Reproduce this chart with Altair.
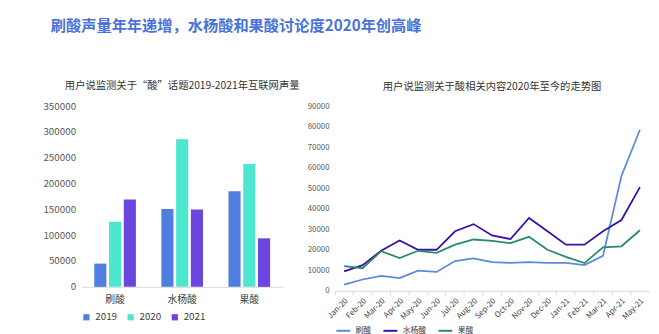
import altair as alt
import pandas as pd

# ---- data ----
bar_categories = ["刷酸", "水杨酸", "果酸"]
bar_years = ["2019", "2020", "2021"]
bar_2019 = [45000, 151000, 185000]
bar_2020 = [126000, 286000, 238000]
bar_2021 = [169000, 150000, 94000]

months = ["Jan-20", "Feb-20", "Mar-20", "Apr-20", "May-20", "Jun-20", "Jul-20", "Aug-20",
          "Sep-20", "Oct-20", "Nov-20", "Dec-20", "Jan-21", "Feb-21", "Mar-21", "Apr-21", "May-21"]
line_series = ["刷酸", "水杨酸", "果酸"]
shuasuan = [3000, 5500, 7300, 6200, 9800, 9200, 14500, 15800, 14000, 13600, 14000, 13600, 13600, 12500, 17000, 56000, 78500]
shuiyangsuan = [9500, 12500, 19500, 24500, 20000, 20000, 29000, 32500, 27000, 25200, 35500, 29000, 22500, 22500, 29000, 34500, 50500]
guosuan = [12000, 11000, 19300, 16000, 19500, 18500, 22500, 25000, 24300, 23200, 26300, 20000, 16500, 13500, 21200, 21700, 29500]

bar_colors = ["#4f7de0", "#4de6cf", "#6a45e0"]
line_colors = ["#5b8bd8", "#3a10a8", "#2b8a6e"]

FONT = "Noto Sans CJK SC"

bar_rows = []
for year, vals in zip(bar_years, [bar_2019, bar_2020, bar_2021]):
    for c, v in zip(bar_categories, vals):
        bar_rows.append({"类别": c, "年份": year, "声量": v})
bar_df = pd.DataFrame(bar_rows)

line_rows = []
for s, vals in zip(line_series, [shuasuan, shuiyangsuan, guosuan]):
    for m, v in zip(months, vals):
        line_rows.append({"月份": m, "系列": s, "声量": v})
line_df = pd.DataFrame(line_rows)

bar = alt.Chart(bar_df, title=alt.Title("用户说监测关于“酸”话题2019-2021年互联网声量",
                                        fontSize=10.5, fontWeight="normal", color="#333333",
                                        font=FONT, offset=10)).mark_bar().encode(
    x=alt.X("类别:N", sort=bar_categories, title=None,
            scale=alt.Scale(paddingInner=0.38, paddingOuter=0.19),
            axis=alt.Axis(labelAngle=0, labelFontSize=10, labelColor="#404040",
                          domainColor="#d9d9d9", ticks=False, labelPadding=8, labelFont=FONT)),
    xOffset=alt.XOffset("年份:N", sort=bar_years, scale=alt.Scale(paddingInner=0.18)),
    y=alt.Y("声量:Q", title=None,
            scale=alt.Scale(domain=[0, 350000]),
            axis=alt.Axis(values=list(range(0, 350001, 50000)), format="d", domain=False,
                          ticks=False, grid=False,
                          labelFontSize=10, labelColor="#595959", labelPadding=6, labelFont=FONT)),
    color=alt.Color("年份:N", sort=bar_years,
                    scale=alt.Scale(domain=bar_years, range=bar_colors),
                    legend=alt.Legend(orient="bottom", title=None, direction="horizontal",
                                      symbolType="square", symbolSize=40, labelFontSize=10,
                                      labelColor="#404040", columnPadding=8, offset=8, labelFont=FONT)),
).properties(width=205, height=184)

line = alt.Chart(line_df, title=alt.Title("用户说监测关于酸相关内容2020年至今的走势图",
                                          fontSize=10.5, fontWeight="normal", color="#333333",
                                          font=FONT, offset=10)).mark_line(strokeWidth=1.8).encode(
    x=alt.X("月份:N", sort=months, title=None,
            scale=alt.Scale(type="band", paddingInner=0, paddingOuter=0),
            axis=alt.Axis(labelAngle=-45, labelFontSize=8, labelColor="#404040",
                          domainColor="#d9d9d9", ticks=True, tickColor="#d9d9d9", tickSize=4,
                          bandPosition=0, labelPadding=2, labelFont=FONT)),
    y=alt.Y("声量:Q", title=None,
            scale=alt.Scale(domain=[0, 90000]),
            axis=alt.Axis(values=list(range(0, 90001, 10000)), format="d", domain=False,
                          ticks=False, grid=False,
                          labelFontSize=8, labelColor="#595959", labelPadding=6, labelFont=FONT)),
    color=alt.Color("系列:N", sort=line_series,
                    scale=alt.Scale(domain=line_series, range=line_colors),
                    legend=alt.Legend(orient="bottom", title=None, direction="horizontal",
                                      symbolType="stroke", symbolStrokeWidth=2, symbolSize=200,
                                      labelFontSize=8, labelColor="#404040", columnPadding=8,
                                      offset=1, labelFont=FONT)),
).properties(width=320, height=188)

chart = alt.hconcat(bar, line, spacing=6).resolve_scale(color="independent").resolve_legend(
    color="independent"
).properties(
    title=alt.Title("刷酸声量年年递增，水杨酸和果酸讨论度2020年创高峰",
                    fontSize=15.5, fontWeight="bold", color="#4a72d8", font=FONT,
                    anchor="start", offset=48, dx=8),
    padding={"left": 43, "top": 16, "right": 10, "bottom": 0},
    background="white",
).configure_view(stroke=None).configure_axis(grid=False)

chart.save("out.html", embed_options={"renderer": "svg", "actions": False})
